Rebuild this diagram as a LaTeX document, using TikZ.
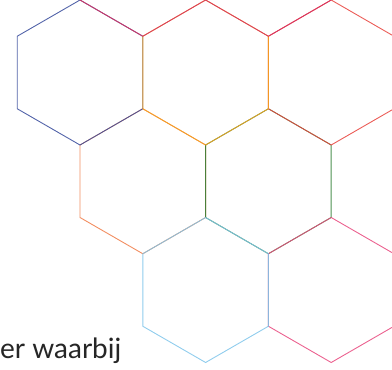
\documentclass[tikz,border=0pt]{standalone}
\usepackage{fontspec}
\setmainfont{Lato}
\usetikzlibrary{shapes.geometric}
\definecolor{hexnavy}{HTML}{34489A}
\definecolor{hexgold}{HTML}{F5A21B}
\definecolor{hexred}{HTML}{E8403A}
\definecolor{hexcoral}{HTML}{F07A45}
\definecolor{hexgreen}{HTML}{2E7D32}
\definecolor{hexsky}{HTML}{7CC4EA}
\definecolor{hexpink}{HTML}{E8467C}
\definecolor{hexcrimson}{HTML}{D8305F}

\begin{document}
\begin{tikzpicture}[
    x=1pt, y=-1pt,
    hex/.style={draw=#1, draw opacity=0.85, regular polygon, regular polygon sides=6,
        shape border rotate=30, minimum size=145pt, inner sep=0pt, outer sep=0pt, line width=0.9pt},
]
    \useasboundingbox (0,0) rectangle (392,370);
    \clip (0,0) rectangle (392,370);

    % middle row
    \node[hex=hexcoral] (hexD) at (142.8,181.25) {};
    \node[hex=hexgreen] (hexE) at (268.4,181.25) {};

    % top row
    \node[hex=hexnavy] (hexA) at (80,72.5) {};
    \node[hex=hexred]  (hexC) at (331.2,72.5) {};
    \node[hex=hexgold] (hexB) at (205.6,72.5) {};

    % row above the frame
    \node[hex=hexcrimson, draw opacity=0.9] (hexTopL) at (142.8,-36.25) {};
    \node[hex=hexcrimson, draw opacity=0.9] (hexTopR) at (268.4,-36.25) {};

    % bottom row
    \node[hex=hexpink] (hexG) at (331.2,290) {};
    \node[hex=hexsky]  (hexF) at (205.6,290) {};

    \node[anchor=base west, inner sep=0pt, font=\fontsize{28}{32}\selectfont, text=black!85] (caption) at (0,358) {er waarbij};
\end{tikzpicture}
\end{document}
